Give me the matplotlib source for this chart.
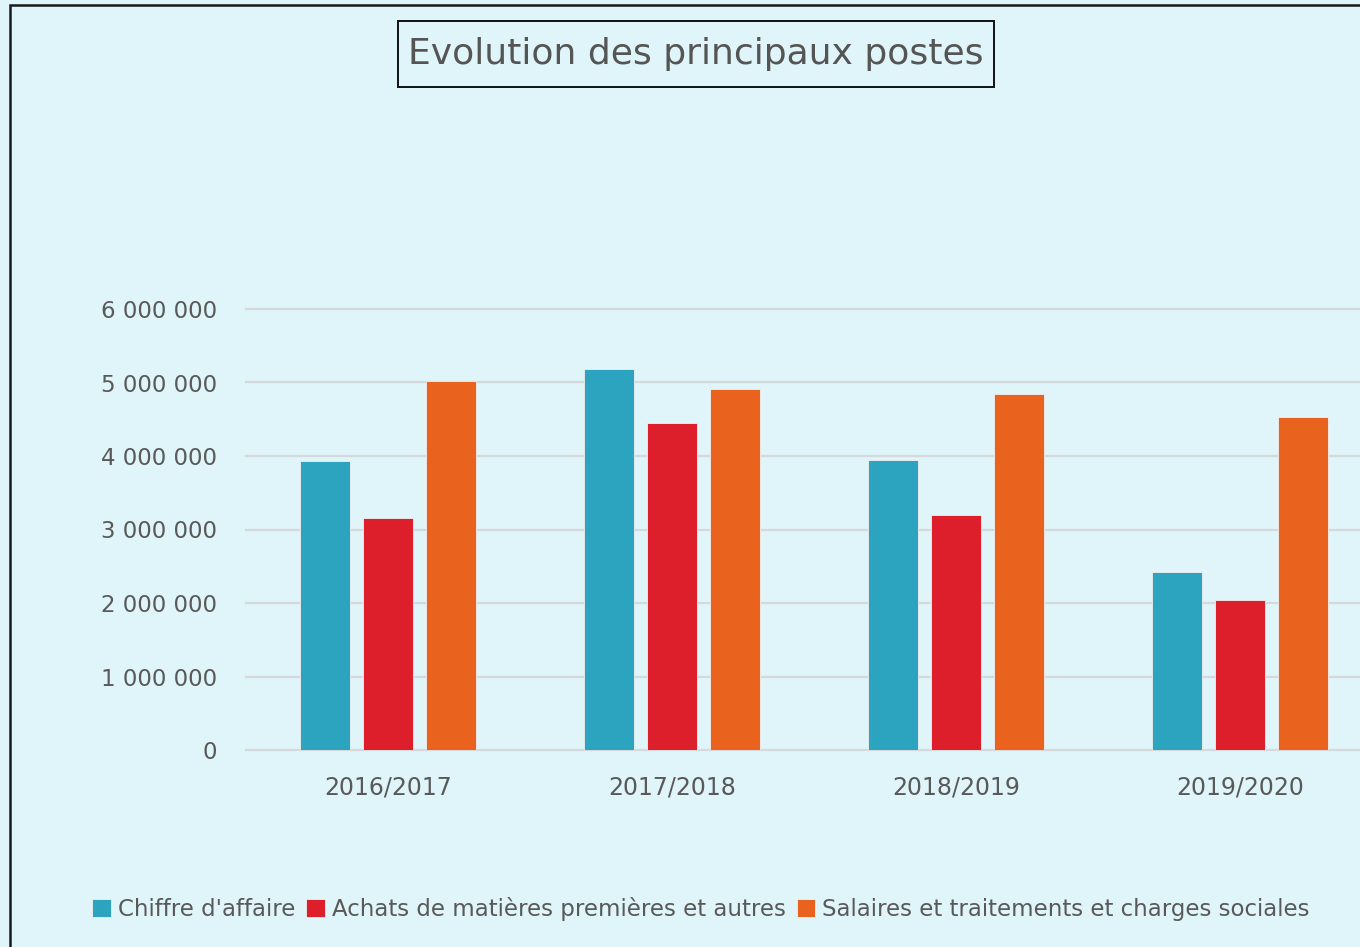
import matplotlib.pyplot as plt
import numpy as np
from matplotlib.patches import Rectangle

# data
years = ['2016/2017', '2017/2018', '2018/2019', '2019/2020']
chiffre_affaire = [3930000, 5180000, 3950000, 2420000]
achats = [3160000, 4450000, 3200000, 2040000]
salaires = [5020000, 4910000, 4840000, 4530000]
series_names = ["Chiffre d'affaire", "Achats de matières premières et autres",
                "Salaires et traitements et charges sociales"]
yticks = [0, 1000000, 2000000, 3000000, 4000000, 5000000, 6000000]

colors = ['#2CA3BF', '#DC1F2A', '#E9631E']
bg = '#DFF5F9'
text_col = '#595959'

fig = plt.figure(figsize=(13.6, 9.47), dpi=100, facecolor=bg)

# outer frame (cropped on the right and bottom in the original)
fig.patches.append(Rectangle((10 / 1360, -0.1), 1.2, 1 - 5 / 947 + 0.1,
                             transform=fig.transFigure, fill=False,
                             edgecolor='#1a1a1a', linewidth=1.8))
# title frame
fig.patches.append(Rectangle((398 / 1360, 1 - 87 / 947), 596 / 1360, 66 / 947,
                             transform=fig.transFigure, fill=False,
                             edgecolor='#111111', linewidth=1.4))

ax = fig.add_axes([246 / 1360, (947 - 750) / 947, 1136 / 1360, 441 / 947])
ax.set_facecolor('none')

x = np.arange(len(years))
bw = 0.176
off = 0.222
for i, vals in enumerate([chiffre_affaire, achats, salaires]):
    ax.bar(x + (i - 1) * off, vals, width=bw, color=colors[i],
           edgecolor='#f0f0f0', linewidth=0.6, label=series_names[i], zorder=3)

ax.set_xlim(-0.5, 3.5)
ax.set_ylim(0, 6000000)
ax.set_yticks(yticks)
ax.set_yticklabels(['{:,}'.format(v).replace(',', ' ') for v in yticks])
ax.set_xticks(x)
ax.set_xticklabels(years)
ax.grid(axis='y', color='#D6D9DC', linewidth=1.6, zorder=0)
ax.set_axisbelow(True)
for s in ax.spines.values():
    s.set_visible(False)
ax.tick_params(axis='both', length=0, colors=text_col)
ax.tick_params(axis='y', pad=21, labelsize=16.5)
ax.tick_params(axis='x', pad=18, labelsize=17)
for lbl in ax.get_yticklabels():
    lbl.set_clip_on(False)
for gl in ax.get_ygridlines():
    gl.set_clip_on(False)

fig.text(696 / 1360, 1 - 54 / 947, 'Evolution des principaux postes',
         ha='center', va='center', fontsize=26, color='#555555')

handles, labels = ax.get_legend_handles_labels()
fig.legend(handles, labels, loc='center', bbox_to_anchor=(701 / 1360, 1 - 909 / 947),
           ncol=3, frameon=False, fontsize=16.5, labelcolor=text_col,
           handlelength=0.8, handleheight=0.8, handletextpad=0.3,
           columnspacing=0.5)

fig.savefig('out.png', dpi=100, facecolor=bg)
